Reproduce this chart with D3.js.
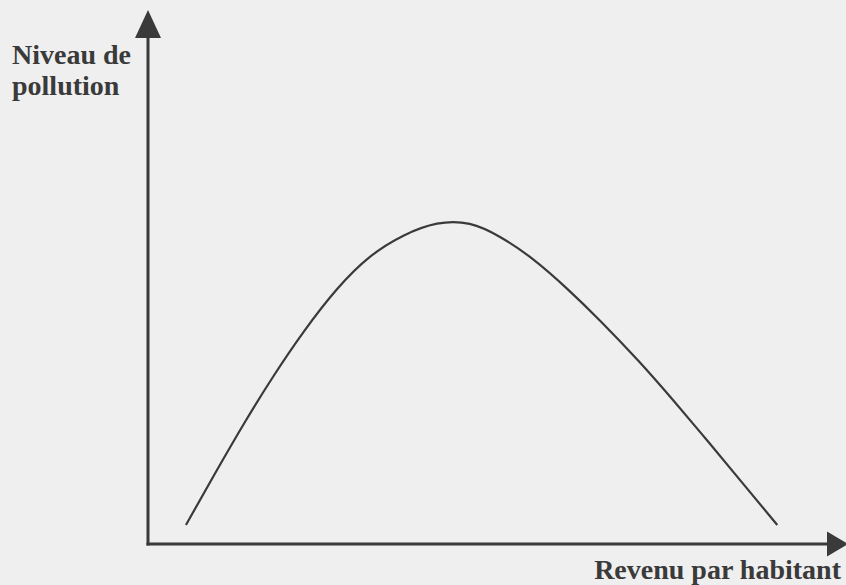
<!DOCTYPE html>
<html>
<head>
<meta charset="utf-8">
<script src="https://cdn.jsdelivr.net/npm/d3@7"></script>
<style>
  html, body { margin: 0; padding: 0; background: #efefef; }
  svg { display: block; }
</style>
</head>
<body>
<div id="chart"></div>
<script>
(function () {

  // Kuznets curve (arbitrary units 0-100)
  const revenu    = [5.5, 9.4, 14.3, 18.1, 22.5, 27.4, 32.2, 37.0, 41.9, 46.7, 51.0, 55.8, 60.7, 65.5, 71.3, 76.1, 81.0, 85.8, 91.2];
  const pollution = [3.6, 13.2, 24.9, 33.3, 42.3, 51.1, 57.7, 61.7, 64.3, 64.3, 61.4, 57.0, 51.0, 44.6, 36.2, 28.6, 20.6, 12.6, 3.6];

  const Y_LABEL = ["Niveau de", "pollution"];
  const X_LABEL = "Revenu par habitant";

  const W = 846, H = 585;
  const INK = "#3a3a3a";

  const x = d3.scaleLinear().domain([0, 100]).range([148, 838]);
  const y = d3.scaleLinear().domain([0, 100]).range([543, 43]);

  const svg = d3.select("#chart").append("svg")
    .attr("width", W)
    .attr("height", H);

  svg.append("rect")
    .attr("width", W)
    .attr("height", H)
    .attr("fill", "#efefef");

  // axes ----------------------------------------------------------
  const x0 = x(0), y0 = y(0) + 1;

  svg.append("line")
    .attr("x1", x0).attr("y1", y0 + 1.5)
    .attr("x2", x0).attr("y2", 36)
    .attr("stroke", INK)
    .attr("stroke-width", 3);

  svg.append("path")
    .attr("d", `M${x0 - 13},38 L${x0},10 L${x0 + 13},38 Z`)
    .attr("fill", INK);

  svg.append("line")
    .attr("x1", x0 - 1.5).attr("y1", y0)
    .attr("x2", 830).attr("y2", y0)
    .attr("stroke", INK)
    .attr("stroke-width", 3);

  svg.append("path")
    .attr("d", `M827,${y0 - 12.5} L848,${y0} L827,${y0 + 12.5} Z`)
    .attr("fill", INK);

  // curve (B-spline smooths out the reading noise) ----------------
  const pts = revenu.map((r, i) => [r, pollution[i]]);

  const line = d3.line()
    .x(d => x(d[0]))
    .y(d => y(d[1]))
    .curve(d3.curveBasis);

  svg.append("path")
    .datum(pts)
    .attr("d", line)
    .attr("fill", "none")
    .attr("stroke", INK)
    .attr("stroke-width", 2.2);

  // labels --------------------------------------------------------
  svg.append("g")
    .selectAll("text")
    .data(Y_LABEL)
    .enter()
    .append("text")
    .attr("x", 12)
    .attr("y", (d, i) => 64 + i * 31)
    .style("font-family", "'Liberation Serif', 'Times New Roman', serif")
    .style("font-weight", "bold")
    .style("font-size", "28px")
    .style("fill", INK)
    .text(d => d);

  svg.append("text")
    .attr("x", 841)
    .attr("y", 579)
    .attr("text-anchor", "end")
    .style("font-family", "'Liberation Serif', 'Times New Roman', serif")
    .style("font-weight", "bold")
    .style("font-size", "28px")
    .style("fill", INK)
    .text(X_LABEL);

})();
</script>
</body>
</html>
